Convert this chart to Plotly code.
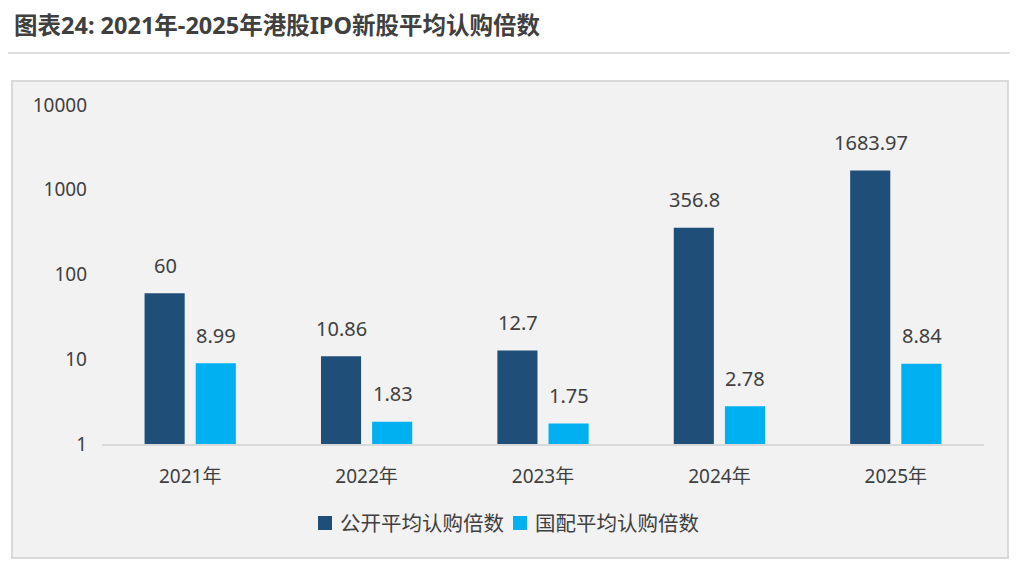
import numpy as np
import plotly.graph_objects as go

years = ["2021年", "2022年", "2023年", "2024年", "2025年"]
public_sub = [60, 10.86, 12.7, 356.8, 1683.97]
placing_sub = [8.99, 1.83, 1.75, 2.78, 8.84]
public_labels = ["60", "10.86", "12.7", "356.8", "1683.97"]
placing_labels = ["8.99", "1.83", "1.75", "2.78", "8.84"]
series_names = ["公开平均认购倍数", "国配平均认购倍数"]
colors = ["#1f4e79", "#00b0f0"]
ytick_vals = [1, 10, 100, 1000, 10000]
ytick_text = ["1", "10", "100", "1000", "10000"]
title_text = "图表24: 2021年-2025年港股IPO新股平均认购倍数"

FONT = "Noto Sans, Noto Sans CJK SC, sans-serif"
TXT = "#404040"

# page has an 8px body margin; plot area in page pixels: x 102..984, y 105..444
def px(x):
    return (x - 102) / 882

def py(y):
    return (444 - y) / 339

fig = go.Figure()
fig.add_trace(go.Bar(x=years, y=public_sub, name=series_names[0],
                     marker=dict(color=colors[0], line=dict(width=0))))
fig.add_trace(go.Bar(x=years, y=placing_sub, name=series_names[1],
                     marker=dict(color=colors[1], line=dict(width=0))))

annotations = []
for vals, labs, dx in [(public_sub, public_labels, -25), (placing_sub, placing_labels, 26)]:
    for yr, v, lab in zip(years, vals, labs):
        annotations.append(dict(x=yr, y=float(np.log10(v)), xref="x", yref="y",
                                text=lab, showarrow=False, xshift=dx, yshift=28,
                                yanchor="middle",
                                font=dict(family=FONT, size=20, color=TXT)))

annotations.append(dict(x=px(12), y=py(25), xref="paper", yref="paper",
                        text="<b>" + title_text + "</b>",
                        showarrow=False, xanchor="left", yanchor="middle",
                        font=dict(family=FONT, size=23.5, color=TXT)))

shapes = [
    dict(type="rect", xref="paper", yref="paper",
         x0=px(12), x1=px(1008), y0=py(558), y1=py(81),
         fillcolor="#f2f2f2", line=dict(color="#d9d9d9", width=2), layer="below"),
    dict(type="line", xref="paper", yref="paper",
         x0=px(5), x1=px(1010), y0=py(53), y1=py(53),
         line=dict(color="#bfbfbf", width=1)),
]

# custom legend (square swatch + label)
legend_x = [318, 513]
for name, col, lx in zip(series_names, colors, legend_x):
    shapes.append(dict(type="rect", xref="paper", yref="paper",
                       x0=px(lx), x1=px(lx + 14), y0=py(530), y1=py(516),
                       fillcolor=col, line=dict(width=0)))
    annotations.append(dict(x=px(lx + 20), y=py(523), xref="paper", yref="paper",
                            text=name, showarrow=False, xanchor="left", yanchor="middle",
                            font=dict(family=FONT, size=20.5, color=TXT)))

fig.update_layout(
    width=1014, height=560,
    margin=dict(l=94, r=38, t=97, b=124),
    paper_bgcolor="white", plot_bgcolor="rgba(0,0,0,0)",
    barmode="group", bargap=0.42, bargroupgap=0.216,
    font=dict(family=FONT, color=TXT),
    showlegend=False,
    annotations=annotations,
    shapes=shapes,
)
fig.update_xaxes(showline=True, linecolor="#d9d9d9", linewidth=2, showgrid=False,
                 ticks="", ticklabelstandoff=14,
                 tickfont=dict(family=FONT, size=19, color=TXT))
fig.update_yaxes(type="log", range=[0, 4], showgrid=False, showline=False, zeroline=False,
                 tickvals=ytick_vals, ticktext=ytick_text, ticks="", ticklabelstandoff=14,
                 tickfont=dict(family=FONT, size=19, color=TXT))

fig.write_html("out.html")
